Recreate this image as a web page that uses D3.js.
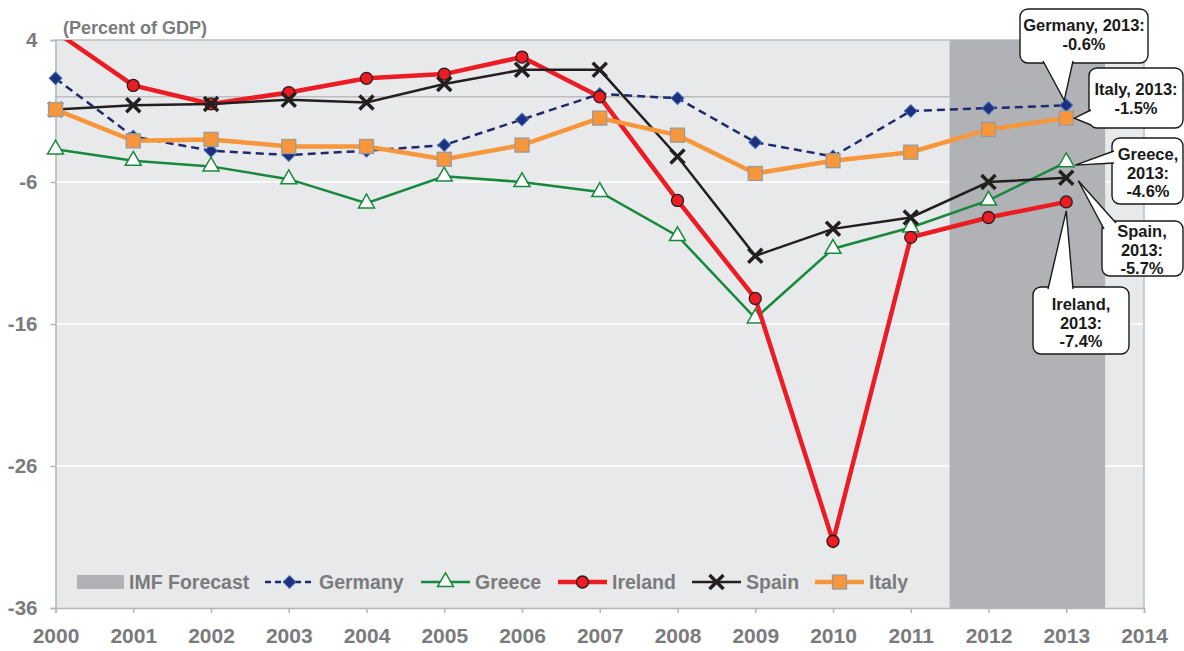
<!DOCTYPE html>
<html>
<head>
<meta charset="utf-8">
<script src="https://cdn.jsdelivr.net/npm/d3@7"></script>
<style>
  body { margin: 0; background: #fff; }
  text { font-family: "Liberation Sans", Arial, sans-serif; font-weight: bold; }
</style>
</head>
<body>
<script>
// data (general government balance, % of GDP)
const years = [2000, 2001, 2002, 2003, 2004, 2005, 2006, 2007, 2008, 2009, 2010, 2011, 2012, 2013];
const germany = [1.3, -2.8, -3.8, -4.1, -3.8, -3.4, -1.6, 0.2, -0.1, -3.2, -4.2, -1.0, -0.8, -0.6];
const greece  = [-3.7, -4.5, -4.9, -5.8, -7.5, -5.6, -6.0, -6.7, -9.8, -15.6, -10.7, -9.2, -7.3, -4.6];
const ireland = [4.6, 0.8, -0.5, 0.3, 1.3, 1.6, 2.8, 0.0, -7.3, -14.2, -31.3, -9.9, -8.5, -7.4];
const spain   = [-0.9, -0.6, -0.5, -0.2, -0.4, 0.9, 1.9, 1.9, -4.2, -11.2, -9.3, -8.5, -6.0, -5.7];
const italy   = [-0.9, -3.1, -3.0, -3.5, -3.5, -4.4, -3.4, -1.5, -2.7, -5.4, -4.5, -3.9, -2.3, -1.5];

const yTicks = [4, -6, -16, -26, -36];
const xTicks = d3.range(2000, 2015);
const forecast = [2011.5, 2013.5];

const w = 1184, h = 651;
const pL = 55.5, pR = 1144, pT = 40, pB = 608;

const x = d3.scaleLinear().domain([2000, 2014]).range([pL, pR]);
const y = d3.scaleLinear().domain([-36, 4]).range([pB, pT]);

const svg = d3.select("body").append("svg").attr("width", w).attr("height", h);

svg.append("clipPath").attr("id", "plot")
   .append("rect").attr("x", pL).attr("y", pT).attr("width", pR - pL).attr("height", pB - pT);

// background + grid
svg.append("rect").attr("x", pL).attr("y", pT).attr("width", pR - pL).attr("height", pB - pT)
   .attr("fill", "#e8e9eb");

svg.selectAll(".grid").data([-6, -16, -26]).enter().append("line")
   .attr("x1", pL).attr("x2", pR).attr("y1", d => y(d)).attr("y2", d => y(d))
   .attr("stroke", "#fff").attr("stroke-width", 1.5);

svg.selectAll(".grid0").data([0, 4]).enter().append("line")
   .attr("x1", pL).attr("x2", pR).attr("y1", d => y(d)).attr("y2", d => y(d))
   .attr("stroke", "#bdbdbf").attr("stroke-width", 1.5);

// forecast band
svg.append("rect")
   .attr("x", x(forecast[0])).attr("y", pT)
   .attr("width", x(forecast[1]) - x(forecast[0])).attr("height", pB - pT)
   .attr("fill", "#b1b2b6");

// right border
svg.append("line").attr("x1", pR).attr("x2", pR).attr("y1", pT).attr("y2", pB)
   .attr("stroke", "#bdbdbf").attr("stroke-width", 1.5);

// axes
const xAxis = d3.axisBottom(x).tickValues(xTicks).tickFormat(d3.format("d")).tickSize(5).tickPadding(10);
const yAxis = d3.axisLeft(y).tickValues(yTicks).tickFormat(d => String(d)).tickSize(5).tickPadding(13);

const gx = svg.append("g").attr("transform", "translate(0," + pB + ")").call(xAxis);
const gy = svg.append("g").attr("transform", "translate(" + pL + ",0)").call(yAxis);

[gx, gy].forEach(g => {
  g.select(".domain").attr("stroke", "#b5b5b7").attr("stroke-width", 1.5);
  g.selectAll(".tick line").attr("stroke", "#b5b5b7").attr("stroke-width", 1.5);
  g.selectAll("text").attr("fill", "#7b7b7d").attr("font-size", 21)
   .attr("font-family", "Liberation Sans, Arial, sans-serif").attr("font-weight", "bold");
});
gy.selectAll("text").attr("font-size", 20.5);
gx.selectAll("text").attr("dy", "0.95em");

svg.append("text").attr("x", 63).attr("y", 34).attr("fill", "#7b7b7d").attr("font-size", 18)
   .text("(Percent of GDP)");

// marker shapes
function marker(g, type, cx, cy) {
  if (type === "diamond") {
    g.append("path").attr("d", d3.symbol(d3.symbolSquare, 80)())
     .attr("transform", `translate(${cx},${cy}) rotate(45)`)
     .attr("fill", "#1f2f80").attr("stroke", "#3d6bb3").attr("stroke-width", 1);
  } else if (type === "triangle") {
    g.append("path").attr("d", d3.symbol(d3.symbolTriangle, 110)())
     .attr("transform", `translate(${cx},${cy})`)
     .attr("fill", "#fff").attr("stroke", "#17893d").attr("stroke-width", 1.5);
  } else if (type === "circle") {
    g.append("circle").attr("cx", cx).attr("cy", cy).attr("r", 6)
     .attr("fill", "#ec1c24").attr("stroke", "#2b1a1a").attr("stroke-width", 1.3);
  } else if (type === "x") {
    const s = 7;
    g.append("path").attr("d", `M${cx - s},${cy - s}L${cx + s},${cy + s}M${cx - s},${cy + s}L${cx + s},${cy - s}`)
     .attr("stroke", "#231f20").attr("stroke-width", 3.5).attr("fill", "none");
  } else if (type === "square") {
    g.append("rect").attr("x", cx - 7).attr("y", cy - 7).attr("width", 14).attr("height", 14)
     .attr("fill", "#f7963b").attr("stroke", "#9a9a9a").attr("stroke-width", 1.3);
  }
}

const series = [
  { name: "Germany", values: germany, color: "#1f2a6e", width: 2.5, dash: "8,5", marker: "diamond" },
  { name: "Greece", values: greece, color: "#17893d", width: 2.5, dash: null, marker: "triangle" },
  { name: "Ireland", values: ireland, color: "#ec1c24", width: 4.5, dash: null, marker: "circle" },
  { name: "Spain", values: spain, color: "#231f20", width: 2.5, dash: null, marker: "x" },
  { name: "Italy", values: italy, color: "#f7963b", width: 4.5, dash: null, marker: "square" }
];

const line = d3.line().x(d => x(d[0])).y(d => y(d[1]));
const plot = svg.append("g");

series.forEach(s => {
  const pts = years.map((yr, i) => [yr, s.values[i]]);
  const g = plot.append("g");
  g.append("path").datum(pts).attr("d", line).attr("clip-path", "url(#plot)")
   .attr("fill", "none").attr("stroke", s.color).attr("stroke-width", s.width)
   .attr("stroke-dasharray", s.dash);
  // markers beyond the axis range are not shown
  pts.filter(p => p[1] <= 4 && p[1] >= -36).forEach(p => marker(g, s.marker, x(p[0]), y(p[1])));
});

// legend
const legendY = 582;
const lg = svg.append("g");
lg.append("rect").attr("x", 77).attr("y", legendY - 7).attr("width", 47).attr("height", 14).attr("fill", "#b1b2b6");
lg.append("text").attr("x", 129).attr("y", legendY).attr("dy", "0.36em").attr("font-size", 19.5)
  .attr("fill", "#7b7b7d").text("IMF Forecast");
const legendX = [265, 421, 558, 692, 815];
series.forEach((s, i) => {
  const lx = legendX[i];
  const g = lg.append("g");
  g.append("line").attr("x1", lx).attr("x2", lx + 49).attr("y1", legendY).attr("y2", legendY)
   .attr("stroke", s.color).attr("stroke-width", s.width).attr("stroke-dasharray", s.dash ? "6,4" : null);
  marker(g, s.marker, lx + 24.5, legendY);
  g.append("text").attr("x", lx + 54).attr("y", legendY).attr("dy", "0.36em").attr("font-size", 19.5)
   .attr("fill", "#7b7b7d").text(s.name);
});

// callouts
const callouts = [
  { box: [1020, 9, 128, 54], lines: ["Germany, 2013:", "-0.6%"], base: [[1043, 61], [1073, 61]],
    val: germany[13], dx: -2, dy: -5, tx: 1084, ty: 31 },
  { box: [1089, 68, 94, 60], lines: ["Italy, 2013:", "-1.5%"], base: [[1091, 110], [1091, 125]],
    val: italy[13], dx: 8, dy: 0, tx: 1136, ty: 95 },
  { box: [1112, 138, 71, 66], lines: ["Greece,", "2013:", "-4.6%"], base: [[1114, 151], [1114, 163]],
    val: greece[13], dx: 9, dy: 3, tx: 1148, ty: 160 },
  { box: [1102, 221, 81, 55], lines: ["Spain,", "2013:", "-5.7%"], base: [[1104, 229], [1116, 223]],
    val: spain[13], dx: 12, dy: 3, tx: 1142, ty: 237 },
  { box: [1033, 287, 96, 67], lines: ["Ireland,", "2013:", "-7.4%"], base: [[1048, 289], [1073, 289]],
    val: ireland[13], dx: 0, dy: 9, tx: 1081, ty: 310 }
];

const cg = svg.append("g");
callouts.forEach(c => {
  const [bx, by, bw, bh] = c.box;
  cg.append("rect").attr("x", bx).attr("y", by).attr("width", bw).attr("height", bh).attr("rx", 8)
    .attr("fill", "#fff").attr("stroke", "#1a1a1a").attr("stroke-width", 1.4);
  const apex = [x(2013) + c.dx, y(c.val) + c.dy];
  cg.append("path").attr("d", `M${c.base[0]}L${apex}L${c.base[1]}`)
    .attr("fill", "#fff").attr("stroke", "#1a1a1a").attr("stroke-width", 1.4);
  const t = cg.append("text").attr("x", c.tx).attr("y", c.ty).attr("text-anchor", "middle")
    .attr("font-size", 16.5).attr("fill", "#1a1a1a");
  c.lines.forEach((l, i) => t.append("tspan").attr("x", c.tx).attr("dy", i ? 18.5 : 0).text(l));
});
</script>
</body>
</html>
